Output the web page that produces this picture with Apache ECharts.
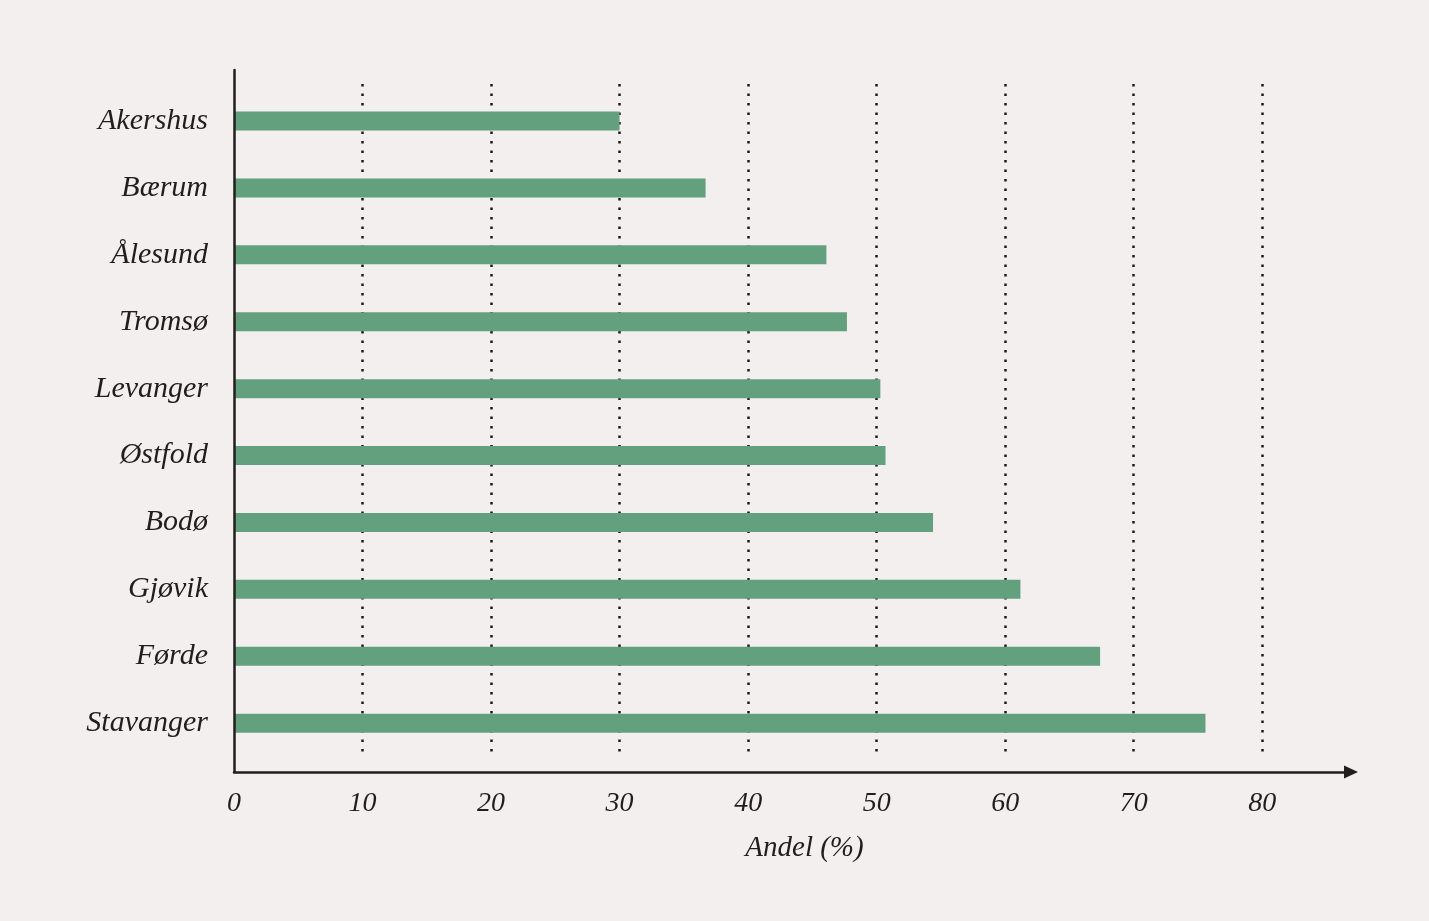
<!DOCTYPE html>
<html>
<head>
<meta charset="utf-8">
<script src="https://cdn.jsdelivr.net/npm/echarts@6/dist/echarts.min.js"></script>
<style>
html,body{margin:0;padding:0;background:#f2efee;}
#chart{width:1429px;height:921px;}
</style>
</head>
<body>
<div id="chart"></div>
<script>
const categories = ['Akershus','Bærum','Ålesund','Tromsø','Levanger','Østfold','Bodø','Gjøvik','Førde','Stavanger'];
const values = [30.0, 36.7, 46.1, 47.7, 50.3, 50.7, 54.4, 61.2, 67.4, 75.6];
const xTicks = [0,10,20,30,40,50,60,70,80];
const xName = 'Andel (%)';

const FONT = '"Liberation Serif", "DejaVu Serif", serif';
const TXT = '#231e1e';

const chart = echarts.init(document.getElementById('chart'), null, {renderer:'canvas'});
chart.setOption({
  backgroundColor: '#f2efee',
  animation: false,
  grid: [
    {left: 234, right: 78, top: 70, bottom: 149},
    {left: 234, right: 167, top: 84, bottom: 169},
    {left: 234, right: 167, top: 87.6, bottom: 164.4}
  ],
  xAxis: [
    {
      gridIndex: 0, type: 'value', min: 0, max: 86.9, interval: 10, z: 10,
      axisLine: {show: true, lineStyle: {color: TXT, width: 2.5}, symbol: ['none','triangle'], symbolSize: [13, 14]},
      axisTick: {show: false},
      splitLine: {show: false},
      axisLabel: {
        showMaxLabel: false, margin: 18,
        fontFamily: FONT, fontStyle: 'italic', fontSize: 28, color: TXT,
        formatter: v => (xTicks.indexOf(v) >= 0 ? String(v) : '')
      },
      name: xName, nameLocation: 'middle', nameGap: 62,
      nameTextStyle: {fontFamily: FONT, fontStyle: 'italic', fontSize: 29, color: TXT, padding: [0,0,0,24]}
    },
    {
      gridIndex: 1, type: 'value', min: 0, max: 80, interval: 10,
      axisLine: {show: false}, axisTick: {show: false}, axisLabel: {show: false},
      splitLine: {show: true, showMinLine: false, lineStyle: {color: '#1e1a1a', width: 2.5, type: [2.5, 7]}}
    },
    {
      gridIndex: 2, type: 'value', min: 0, max: 80,
      axisLine: {show: false}, axisTick: {show: false}, axisLabel: {show: false}, splitLine: {show: false}
    }
  ],
  yAxis: [
    {
      gridIndex: 0, type: 'value', min: 0, max: 1, z: 10,
      axisLine: {show: true, lineStyle: {color: TXT, width: 2.5}},
      axisTick: {show: false}, axisLabel: {show: false}, splitLine: {show: false}
    },
    {
      gridIndex: 1, type: 'value', min: 0, max: 1, show: false
    },
    {
      gridIndex: 2, type: 'category', data: categories, inverse: true,
      axisLine: {show: false}, axisTick: {show: false}, splitLine: {show: false},
      axisLabel: {margin: 26, fontFamily: FONT, fontStyle: 'italic', fontSize: 30, color: TXT}
    }
  ],
  series: [
    {
      type: 'bar', xAxisIndex: 2, yAxisIndex: 2, data: values,
      barWidth: 19, itemStyle: {color: '#63a07d'}, z: 5
    }
  ]
});
</script>
</body>
</html>
